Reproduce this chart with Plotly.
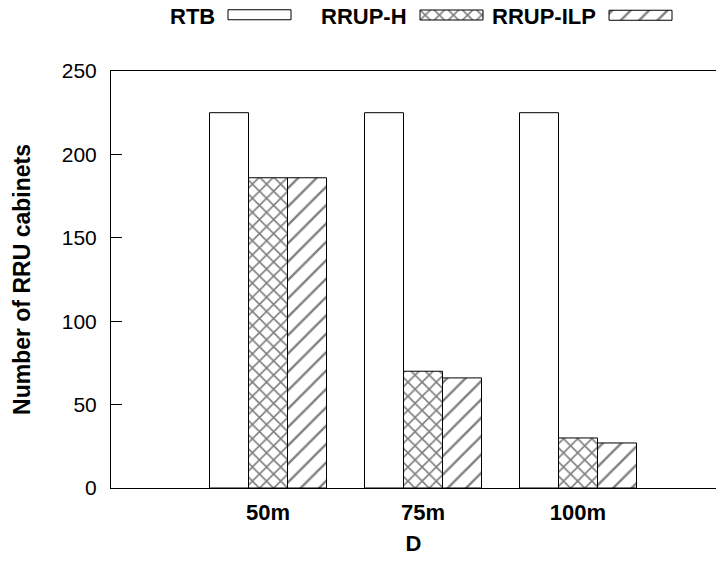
import plotly.graph_objects as go

# data
distances = ["50m", "75m", "100m"]
rtb = [225, 225, 225]
rrup_h = [186, 70, 30]
rrup_ilp = [186, 66, 27]

series_names = ["RTB", "RRUP-H", "RRUP-ILP"]
y_ticks = [0, 50, 100, 150, 200, 250]

# the page body keeps its default 8px margin, so the figure is drawn
# 8px in from the window corner and sized to fit the 724x564 window
OFF = 8
W, H = 724 - 2 * OFF, 564 - 2 * OFF
FONT = "Liberation Sans, Arial, sans-serif"
FS = 22

# plot frame in window pixels
left, right, top, bottom = 111, 724, 71, 488
group_step = 155.0
first_center = 268.0

# legend layout in window pixels (text right-justified before the sample)
legend_box_left = [228, 420, 609]
legend_box_width = 63
legend_box_y = (10, 20)
legend_band = (OFF, 30)
legend_text_y = 17


def px(x):
    return (x - OFF) / W


def py(y):
    return 1 - (y - OFF) / H


patterns = [
    dict(shape="", fgcolor="black", bgcolor="white"),
    dict(shape="x", fgcolor="black", bgcolor="white", size=10, solidity=0.3),
    dict(shape="/", fgcolor="black", bgcolor="white", size=13, solidity=0.18),
]

fig = go.Figure()

for name, vals, pat in zip(series_names, [rtb, rrup_h, rrup_ilp], patterns):
    fig.add_trace(go.Bar(
        x=distances, y=vals, name=name,
        marker=dict(color="white", pattern=pat,
                    line=dict(color="black", width=1)),
        showlegend=False,
    ))

# legend samples drawn as horizontal bars on hidden pixel-scaled axes
box_h = legend_box_y[1] - legend_box_y[0]
box_mid = sum(legend_box_y) / 2
for name, x0, pat in zip(series_names, legend_box_left, patterns):
    fig.add_trace(go.Bar(
        y=[box_mid], x=[legend_box_width], base=[x0], orientation="h",
        width=box_h, xaxis="x2", yaxis="y2",
        marker=dict(color="white", pattern=pat,
                    line=dict(color="black", width=1)),
        showlegend=False, hoverinfo="skip",
    ))
    fig.add_annotation(
        x=px(x0 - 11), y=py(legend_text_y),
        xref="paper", yref="paper", xanchor="right", yanchor="middle",
        text=f"<b>{name}</b>", showarrow=False,
        font=dict(family=FONT, size=FS, color="black"),
    )

x_lo = -(first_center - left) / group_step
x_hi = (W + OFF - first_center) / group_step

fig.update_layout(
    width=W, height=H,
    margin=dict(l=0, r=0, t=0, b=0, pad=0),
    plot_bgcolor="white", paper_bgcolor="white",
    barmode="group", bargap=1 - 117 / group_step, bargroupgap=0,
    font=dict(family=FONT, size=FS, color="black"),
    xaxis=dict(
        domain=[px(left), 1], automargin=False,
        range=[x_lo, x_hi],
        showline=True, linecolor="black", linewidth=1, mirror=True,
        ticks="", showgrid=False, zeroline=False,
        tickfont=dict(family=FONT, size=FS),
        ticklabelstandoff=5,
        title=dict(text="<b>D</b>", standoff=30, font=dict(size=FS)),
        tickprefix="<b>", ticksuffix="</b>",
    ),
    yaxis=dict(
        domain=[py(bottom), py(top)], automargin=False,
        range=[0, 250], tickvals=y_ticks,
        showline=True, linecolor="black", linewidth=1, mirror=False,
        ticks="inside", ticklen=11, tickcolor="black",
        showgrid=False, zeroline=False,
        tickfont=dict(family=FONT, size=21),
        ticklabelstandoff=9,
        tickprefix="<b>", ticksuffix="</b>",
        title=dict(text="<b>Number of RRU cabinets</b>", standoff=24,
                   font=dict(size=23)),
    ),
    xaxis2=dict(domain=[0, 1], range=[OFF, W + OFF], anchor="y2",
                visible=False, automargin=False),
    yaxis2=dict(domain=[py(legend_band[1]), py(legend_band[0])],
                range=[legend_band[1], legend_band[0]], anchor="x2",
                visible=False, automargin=False),
)

fig.write_html("out.html")
